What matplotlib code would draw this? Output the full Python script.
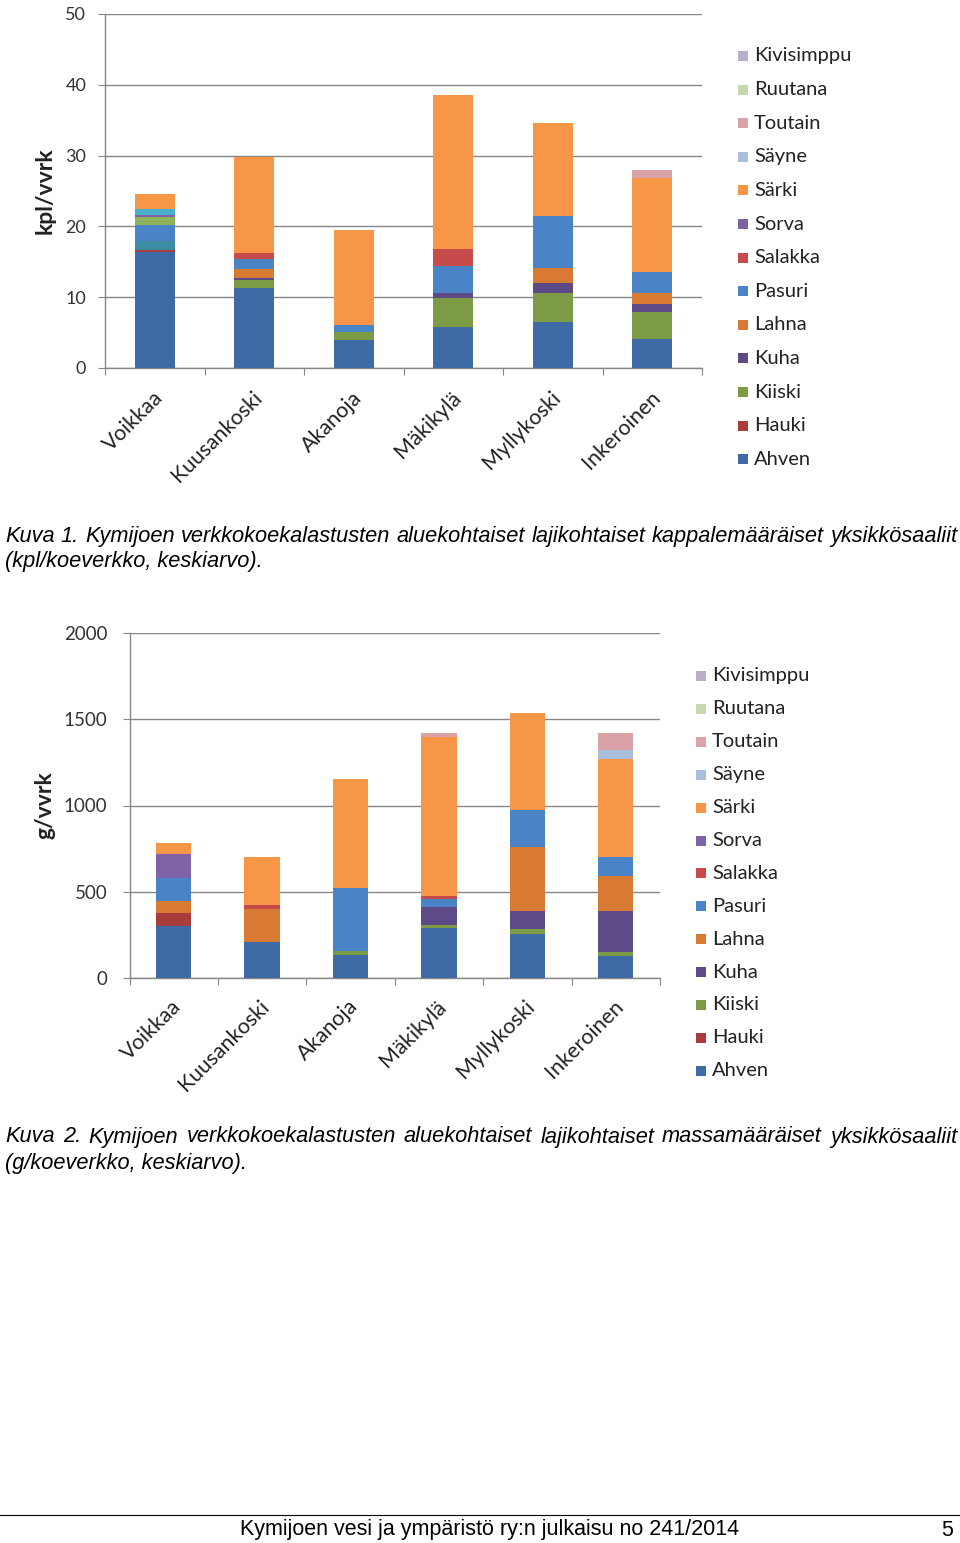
import matplotlib
matplotlib.use("Agg")
import matplotlib.pyplot as plt
from matplotlib.patches import Rectangle
from matplotlib.lines import Line2D
import numpy as np

W, H = 960, 1543
FONT = ['Lato', 'DejaVu Sans']
CAPFONT = ['Liberation Sans', 'DejaVu Sans']

sites = ["Voikkaa", "Kuusankoski", "Akanoja", "Mäkikylä", "Myllykoski", "Inkeroinen"]

# species, bottom -> top of stack
species = ["Ahven", "Hauki", "Kiiski", "Kuha", "Lahna", "Pasuri", "Salakka",
           "Sorva", "Särki", "Säyne", "Toutain", "Ruutana", "Kivisimppu"]
colors = {"Ahven": "#3E6BA6", "Hauki": "#A83D3B", "Kiiski": "#7D9B45",
          "Kuha": "#5E4A86", "Lahna": "#D87A33", "Pasuri": "#4A84C6",
          "Salakka": "#C84B4C", "Sorva": "#7E63A6", "Särki": "#F79646",
          "Säyne": "#A9BEDB", "Toutain": "#D9A3A8", "Ruutana": "#C6D8AE",
          "Kivisimppu": "#B9AFCC"}

# ---- Chart 1: kpl/vvrk ----
kpl_ahven      = [16.4, 11.25, 3.95, 5.85, 6.55, 4.05]
kpl_hauki      = [0.3, 0, 0, 0, 0, 0]
kpl_kiiski     = [0, 1.15, 1.2, 4.0, 4.1, 3.8]
kpl_kuha       = [0, 0.25, 0, 0.7, 1.35, 1.15]
kpl_lahna      = [0, 1.3, 0, 0, 2.1, 1.65]
kpl_pasuri     = [2.35, 1.4, 0.95, 3.9, 7.3, 2.95]
kpl_salakka    = [0, 0.95, 0, 2.35, 0, 0]
kpl_sorva      = [0.2, 0, 0, 0, 0, 0]
kpl_sarki      = [2.1, 13.5, 13.4, 21.8, 13.25, 13.3]
kpl_sayne      = [0, 0, 0, 0, 0, 0]
kpl_toutain    = [0, 0, 0, 0, 0, 1.05]
kpl_ruutana    = [0, 0, 0, 0, 0, 0]
kpl_kivisimppu = [0, 0, 0, 0, 0, 0]
# segments in Voikkaa whose species is not shown in the legend
kpl_muu_a = [1.2, 0, 0, 0, 0, 0]    # teal, above Hauki
kpl_muu_b = [1.1, 0, 0, 0, 0, 0]    # green, above Pasuri
kpl_muu_c = [0.95, 0, 0, 0, 0, 0]   # aqua, below Särki

# ---- Chart 2: g/vvrk ----
g_ahven      = [304, 212, 135, 289, 256, 131]
g_hauki      = [72, 0, 0, 0, 0, 0]
g_kiiski     = [0, 0, 23, 19, 29, 19]
g_kuha       = [0, 0, 0, 103, 104, 239]
g_lahna      = [73, 189, 0, 0, 373, 203]
g_pasuri     = [130, 0, 366, 46, 212, 112]
g_salakka    = [0, 23, 0, 21, 0, 0]
g_sorva      = [140, 0, 0, 0, 0, 0]
g_sarki      = [66, 280, 628, 920, 561, 565]
g_sayne      = [0, 0, 0, 0, 0, 52]
g_toutain    = [0, 0, 0, 23, 0, 100]
g_ruutana    = [0, 0, 0, 0, 0, 0]
g_kivisimppu = [0, 0, 0, 0, 0, 0]

kpl_series = [("Ahven", kpl_ahven, colors["Ahven"]),
              ("Hauki", kpl_hauki, colors["Hauki"]),
              ("_a", kpl_muu_a, "#3C8DA3"),
              ("Kiiski", kpl_kiiski, colors["Kiiski"]),
              ("Kuha", kpl_kuha, colors["Kuha"]),
              ("Lahna", kpl_lahna, colors["Lahna"]),
              ("Pasuri", kpl_pasuri, colors["Pasuri"]),
              ("_b", kpl_muu_b, "#8FB35A"),
              ("Salakka", kpl_salakka, colors["Salakka"]),
              ("Sorva", kpl_sorva, colors["Sorva"]),
              ("_c", kpl_muu_c, "#4BAECA"),
              ("Särki", kpl_sarki, colors["Särki"]),
              ("Säyne", kpl_sayne, colors["Säyne"]),
              ("Toutain", kpl_toutain, colors["Toutain"]),
              ("Ruutana", kpl_ruutana, colors["Ruutana"]),
              ("Kivisimppu", kpl_kivisimppu, colors["Kivisimppu"])]
g_vals = [g_ahven, g_hauki, g_kiiski, g_kuha, g_lahna, g_pasuri, g_salakka,
          g_sorva, g_sarki, g_sayne, g_toutain, g_ruutana, g_kivisimppu]
g_series = [(s, v, colors[s]) for s, v in zip(species, g_vals)]

fig = plt.figure(figsize=(W / 100, H / 100), dpi=100)
fig.patch.set_facecolor("white")


def fax(x0, y0, x1, y1):
    return fig.add_axes([x0 / W, 1 - y1 / H, (x1 - x0) / W, (y1 - y0) / H])


def chart(ax, series, ymax, ystep, ylabel, ylab_x, tick_pad, tick_size,
          lab_dx, lab_dy):
    x = np.arange(len(sites))
    bottom = np.zeros(len(sites))
    for name, vals, col in series:
        v = np.array(vals, dtype=float)
        ax.bar(x, v, 0.4, bottom=bottom, color=col, linewidth=0, zorder=3)
        bottom += v
    ax.set_xlim(-0.5, len(sites) - 0.5)
    ax.set_ylim(0, ymax)
    ax.set_yticks(np.arange(0, ymax + 1, ystep))
    ax.yaxis.grid(True, color="#868686", linewidth=1.0, zorder=0)
    ax.set_axisbelow(True)
    for s in ["top", "right"]:
        ax.spines[s].set_visible(False)
    for s in ["left", "bottom"]:
        ax.spines[s].set_color("#868686")
        ax.spines[s].set_linewidth(1.0)
    ax.tick_params(axis="y", length=5, color="#868686", pad=tick_pad,
                   labelsize=tick_size, labelcolor="#333333")
    for t in ax.get_yticklabels():
        t.set_family(FONT)
    ax.set_xticks(np.arange(-0.5, len(sites), 1.0))
    ax.set_xticklabels([])
    ax.tick_params(axis="x", length=5, color="#868686")
    for i, s in enumerate(sites):
        ax.text(i + lab_dx, lab_dy, s, transform=ax.get_xaxis_transform(),
                rotation=45, ha="right", va="top", rotation_mode="anchor",
                fontsize=15.5, family=FONT, color="#222222")
    bb = ax.get_position()
    fig.text(ylab_x / W, bb.y0 + bb.height / 2, ylabel, rotation=90,
             ha="center", va="center", fontsize=16.5, fontweight="bold",
             family=FONT, color="#222222")


def legend(x_sq, y_first, spacing):
    for i, s in enumerate(reversed(species)):
        yc = y_first + i * spacing
        fig.patches.append(Rectangle((x_sq / W, 1 - (yc + 5) / H), 10 / W, 10 / H,
                                     transform=fig.transFigure,
                                     facecolor=colors[s], edgecolor="none"))
        fig.text((x_sq + 16) / W, 1 - yc / H, s, ha="left", va="center",
                 fontsize=14.5, family=FONT, color="#222222")


ax1 = fax(105, 14, 702, 368)
chart(ax1, kpl_series, 50, 10, "kpl/vvrk", 45, 8.5, 13, -0.02, -0.055)
legend(738, 56, 33.6)

ax2 = fax(129.5, 632.7, 660, 978.3)
chart(ax2, g_series, 2000, 500, "g/vvrk", 45, 11.0, 13.5, -0.03, -0.052)
legend(696, 676, 32.9)

renderer = fig.canvas.get_renderer()

cap1 = "Kuva 1. Kymijoen verkkokoekalastusten aluekohtaiset lajikohtaiset kappalemääräiset yksikkösaaliit"
cap1b = "(kpl/koeverkko, keskiarvo)."
cap2 = "Kuva 2. Kymijoen verkkokoekalastusten aluekohtaiset lajikohtaiset massamääräiset yksikkösaaliit"
cap2b = "(g/koeverkko, keskiarvo)."

X0, X1 = 5, 957


def word_widths(words, size):
    out = []
    for w in words:
        t = fig.text(0, 0, w, fontsize=size, family=CAPFONT, style="italic")
        out.append(t.get_window_extent(renderer).width)
        t.remove()
    return out


# pick caption font size so that line 1 fits with a normal word gap
words1 = cap1.split(" ")
cap_size = 17.0
while cap_size > 10:
    s_px = cap_size * 100 / 72
    if sum(word_widths(words1, cap_size)) + (len(words1) - 1) * 0.28 * s_px <= X1 - X0:
        break
    cap_size -= 0.1


def justified(words, y, size):
    widths = word_widths(words, size)
    gap = (X1 - X0 - sum(widths)) / (len(words) - 1)
    pos = X0
    for w, wd in zip(words, widths):
        fig.text(pos / W, 1 - y / H, w, ha="left", va="center", fontsize=size,
                 family=CAPFONT, style="italic")
        pos += wd + gap


justified(words1, 536, cap_size)
fig.text(X0 / W, 1 - 562 / H, cap1b, ha="left", va="center", fontsize=cap_size,
         family=CAPFONT, style="italic")
justified(cap2.split(" "), 1137, cap_size)
fig.text(X0 / W, 1 - 1163 / H, cap2b, ha="left", va="center", fontsize=cap_size,
         family=CAPFONT, style="italic")

fig.lines.append(Line2D([0, 1], [1 - 1515 / H, 1 - 1515 / H], transform=fig.transFigure,
                        color="black", linewidth=0.8))
fig.text(490 / W, 1 - 1530 / H, "Kymijoen vesi ja ympäristö ry:n julkaisu no 241/2014",
         ha="center", va="center", fontsize=15.5, family=CAPFONT)
fig.text(953 / W, 1 - 1530 / H, "5", ha="right", va="center", fontsize=15.5,
         family=CAPFONT)

fig.savefig("out.png", dpi=100, facecolor="white")
